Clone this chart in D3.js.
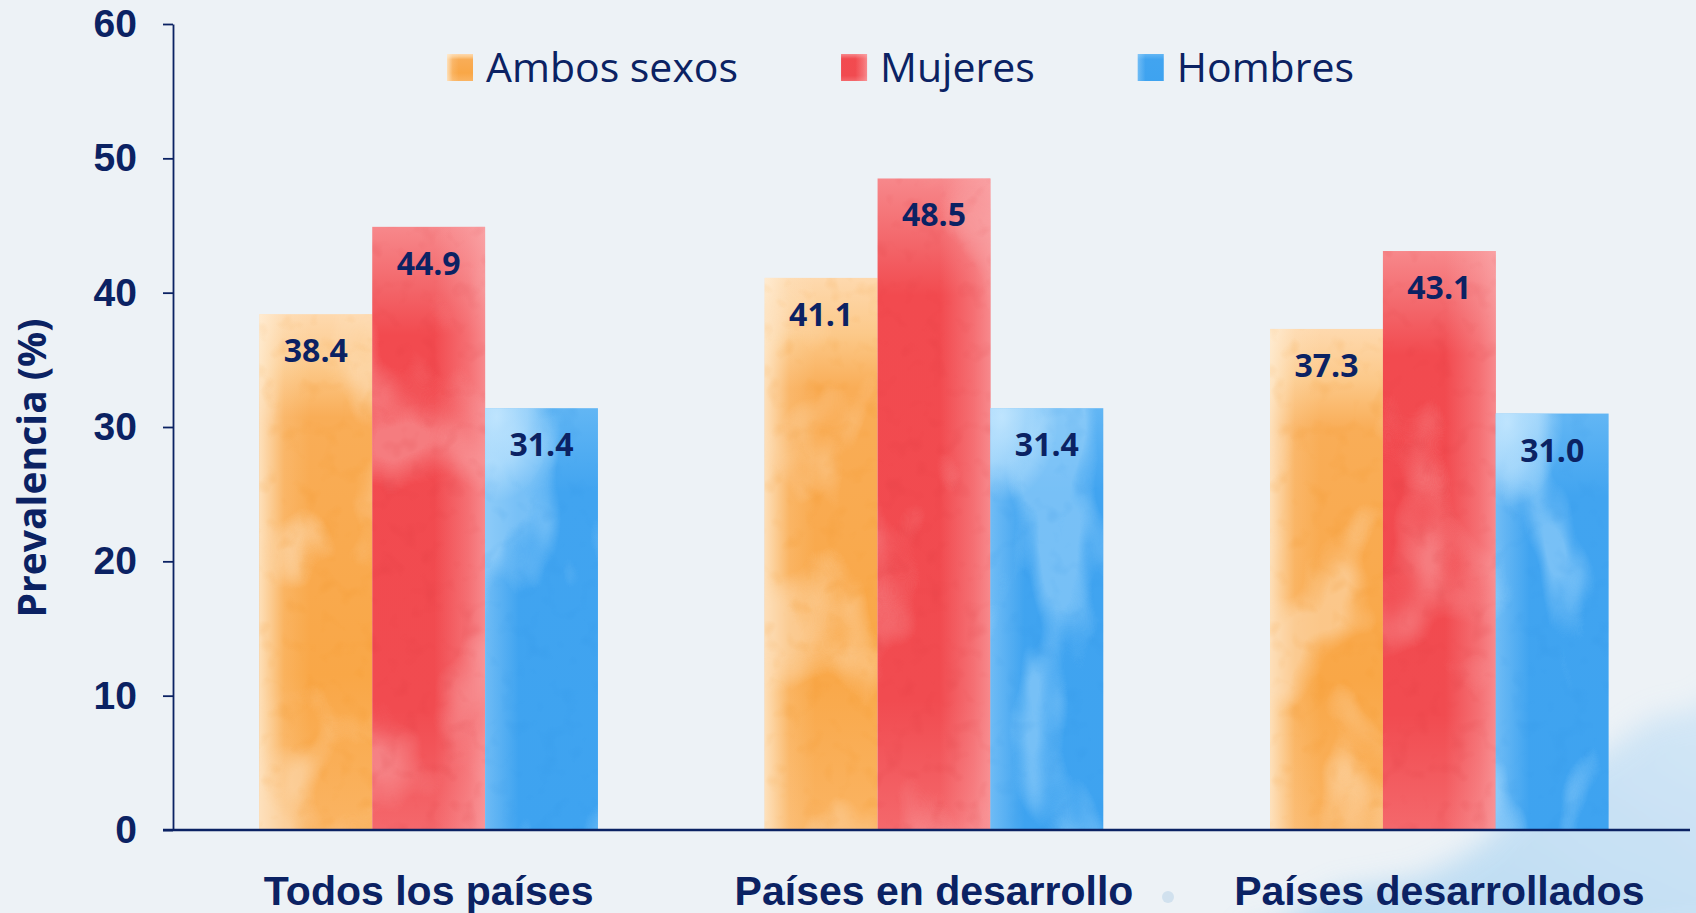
<!DOCTYPE html>
<html>
<head>
<meta charset="utf-8">
<script src="https://cdn.jsdelivr.net/npm/d3@7"></script>
<style>
    html, body { margin: 0; padding: 0; background: #edf2f6; }
    svg { display: block; font-family: "Open Sans", "Noto Sans", sans-serif; }
</style>
</head>
<body>
<script>
// data
var categories = ["Todos los países", "Países en desarrollo", "Países desarrollados"];
var seriesNames = ["Ambos sexos", "Mujeres", "Hombres"];
var ambosSexos = [38.4, 41.1, 37.3];
var mujeres = [44.9, 48.5, 43.1];
var hombres = [31.4, 31.4, 31.0];
var yTicks = [0, 10, 20, 30, 40, 50, 60];

class BarGraf {
    constructor(opts) {
        this.w = opts.width;
        this.h = opts.height;
        this.ink = opts.ink;
        this.colors = opts.colors;
        this.svg;
        this.scaleX;
        this.scaleX2;
        this.scaleY;
    }

    init() {
        this.data = categories.map((c, i) => ({
            cat: c,
            values: [ambosSexos[i], mujeres[i], hombres[i]]
        }));
        this.draw("body");
        this.addDefs();
        this.addBackground();
        this.addAxis();
        this.addBars();
        this.addLegend();
    }

    draw(trg) {
        this.svg = d3.select(trg).append("svg")
            .attr("width", this.w)
            .attr("height", this.h);
        this.scaleY = d3.scaleLinear().domain([0, 60]).range([830, 24]);
        this.scaleX = d3.scaleBand().domain(categories).range([176, 1692])
            .paddingInner(0.33).paddingOuter(0.165);
        this.scaleX2 = d3.scaleBand().domain(seriesNames).range([0, this.scaleX.bandwidth()]);
    }

    linGrad(defs, id, vertical, stops) {
        var lg = defs.append("linearGradient").attr("id", id)
            .attr("x1", 0).attr("y1", 0)
            .attr("x2", vertical ? 0 : 1).attr("y2", vertical ? 1 : 0);
        stops.forEach((s) => lg.append("stop")
            .attr("offset", s[0]).attr("stop-color", s[1]).attr("stop-opacity", s[2] == null ? 1 : s[2]));
    }

    blotFilter(defs, id, freq, oct, seed, k, b) {
        var flt = defs.append("filter").attr("id", id)
            .attr("x", 0).attr("y", 0).attr("width", 1).attr("height", 1);
        flt.append("feTurbulence").attr("type", "fractalNoise")
            .attr("baseFrequency", freq).attr("numOctaves", oct)
            .attr("seed", seed).attr("result", "n");
        flt.append("feColorMatrix").attr("in", "n").attr("type", "matrix")
            .attr("values", "0 0 0 0 0  0 0 0 0 0  0 0 0 0 0  " + k + " 0 0 0 " + b)
            .attr("result", "m");
        flt.append("feComposite").attr("in", "SourceGraphic").attr("in2", "m").attr("operator", "in");
    }

    addDefs() {
        var defs = this.svg.append("defs");
        // soft watercolour blotches, one per bar so they don't repeat
        var blot = [
            { freq: "0.010 0.007", k: 5, b: -2.6 },
            { freq: "0.008 0.006", k: 5, b: -2.7 },
            { freq: "0.012 0.005", k: 6, b: -3.2 }
        ];
        categories.forEach((c, j) => {
            blot.forEach((f, i) => this.blotFilter(defs, "wc" + i + "_" + j, f.freq, 3, 5 + i * 10 + j * 3, f.k, f.b));
        });
        this.blotFilter(defs, "grain", "0.05 0.05", 2, 7, 4, -2.2);

        // base colour, top to bottom
        this.linGrad(defs, "v0", true, [["0%", "#fed9ae"], ["10%", "#fcc98a"], ["20%", "#f9ad57"], ["70%", "#f9a747"], ["100%", "#fab463"]]);
        this.linGrad(defs, "v1", true, [["0%", "#f7888b"], ["10%", "#f3666a"], ["18%", "#f24a4f"], ["80%", "#f14b50"], ["100%", "#f4686c"]]);
        this.linGrad(defs, "v2", true, [["0%", "#62b6f4"], ["20%", "#41a4f0"], ["100%", "#3ea3f0"]]);
        // side washes
        this.linGrad(defs, "h0", false, [["0%", "#fff1dc", 0.75], ["22%", "#fff1dc", 0.15], ["45%", "#fff1dc", 0]]);
        this.linGrad(defs, "h1", false, [["55%", "#fbb3b5", 0], ["85%", "#fbb3b5", 0.35], ["100%", "#fbb3b5", 0.6]]);
        this.linGrad(defs, "h2", false, [["0%", "#c8e8fe", 0.35], ["30%", "#c8e8fe", 0], ["100%", "#c8e8fe", 0]]);

        var tl = defs.append("radialGradient").attr("id", "tl2")
            .attr("cx", 0.1).attr("cy", 0.05).attr("r", 0.5);
        tl.append("stop").attr("offset", "0%").attr("stop-color", "#c2e6fe").attr("stop-opacity", 0.95);
        tl.append("stop").attr("offset", "55%").attr("stop-color", "#c2e6fe").attr("stop-opacity", 0.6);
        tl.append("stop").attr("offset", "100%").attr("stop-color", "#c2e6fe").attr("stop-opacity", 0);

        var splash = defs.append("linearGradient").attr("id", "splash")
            .attr("x1", 0).attr("y1", 1).attr("x2", 1).attr("y2", 0);
        splash.append("stop").attr("offset", "0%").attr("stop-color", "#a9d3f1");
        splash.append("stop").attr("offset", "100%").attr("stop-color", "#cfe5f6");

        var rough = defs.append("filter").attr("id", "rough")
            .attr("x", "-20%").attr("y", "-20%").attr("width", "140%").attr("height", "140%");
        rough.append("feTurbulence").attr("type", "fractalNoise").attr("baseFrequency", 0.012)
            .attr("numOctaves", 3).attr("seed", 2).attr("result", "t");
        rough.append("feDisplacementMap").attr("in", "SourceGraphic").attr("in2", "t")
            .attr("scale", 50).attr("xChannelSelector", "R").attr("yChannelSelector", "G").attr("result", "d");
        rough.append("feGaussianBlur").attr("in", "d").attr("stdDeviation", 14);
    }

    addBackground() {
        this.svg.append("rect").attr("width", this.w).attr("height", this.h).attr("fill", "#edf2f6");
        this.svg.append("path")
            .attr("d", "M1230,940 L1460,850 L1720,690 L1740,940 Z")
            .attr("fill", "url(#splash)")
            .attr("opacity", 0.8)
            .attr("filter", "url(#rough)");
        this.svg.append("circle").attr("cx", 1168).attr("cy", 897).attr("r", 6)
            .attr("fill", "#c9dcec").attr("opacity", 0.8);
    }

    addAxis() {
        var ink = this.ink;
        var yAxis = d3.axisLeft(this.scaleY).tickValues(yTicks)
            .tickSize(10).tickSizeOuter(0).tickPadding(26);
        var gy = this.svg.append("g")
            .attr("transform", "translate(173,0)")
            .call(yAxis);
        gy.select(".domain").attr("stroke", ink).attr("stroke-width", 1.8);
        gy.selectAll(".tick line").attr("stroke", ink).attr("stroke-width", 1.8);
        gy.selectAll(".tick text")
            .attr("fill", ink)
            .style("font-size", "39px")
            .style("font-weight", 700);

        var xAxis = d3.axisBottom(this.scaleX).tickSize(0).tickSizeOuter(0).tickPadding(46);
        var gx = this.svg.append("g")
            .attr("transform", "translate(0,830)")
            .call(xAxis);
        gx.select(".domain").remove();
        gx.append("line")
            .attr("x1", 163).attr("x2", 1690)
            .attr("stroke", ink).attr("stroke-width", 2.6);
        gx.selectAll(".tick text")
            .attr("fill", ink)
            .style("font-size", "41px")
            .style("font-weight", 700);

        this.svg.append("text")
            .attr("transform", "translate(46,468) rotate(-90)")
            .attr("text-anchor", "middle")
            .attr("fill", ink)
            .style("font-size", "39px")
            .style("font-weight", 700)
            .text("Prevalencia (%)");
    }

    addBars() {
        var _loc = this;
        var groups = this.svg.insert("g", "g").selectAll("g")
            .data(this.data)
            .enter().append("g")
            .attr("transform", (d) => "translate(" + this.scaleX(d.cat) + ",0)");

        var bars = groups.selectAll("g.bar")
            .data((d, j) => d.values.map((v, i) => ({ key: seriesNames[i], i: i, j: j, v: v })))
            .enter().append("g")
            .attr("class", "bar");

        var geo = (sel) => sel
            .attr("x", (d) => _loc.scaleX2(d.key))
            .attr("y", (d) => _loc.scaleY(d.v))
            .attr("width", _loc.scaleX2.bandwidth())
            .attr("height", (d) => _loc.scaleY(0) - _loc.scaleY(d.v));

        bars.append("rect").call(geo).attr("fill", (d) => "url(#v" + d.i + ")");
        bars.append("rect").call(geo).attr("fill", (d) => "url(#h" + d.i + ")");
        bars.append("rect").call(geo)
            .attr("fill", (d) => this.colors[d.i].light)
            .attr("opacity", 0.55)
            .attr("filter", (d) => "url(#wc" + d.i + "_" + d.j + ")");
        bars.append("rect").call(geo)
            .attr("fill", (d) => this.colors[d.i].dark)
            .attr("opacity", 0.12)
            .attr("filter", "url(#grain)");
        bars.filter((d) => d.i == 2).append("rect")
            .attr("x", (d) => _loc.scaleX2(d.key))
            .attr("y", (d) => _loc.scaleY(d.v))
            .attr("width", _loc.scaleX2.bandwidth())
            .attr("height", 170)
            .attr("fill", "url(#tl2)");

        bars.append("text")
            .attr("x", (d) => _loc.scaleX2(d.key) + _loc.scaleX2.bandwidth() / 2)
            .attr("y", (d) => _loc.scaleY(d.v) + 48)
            .attr("text-anchor", "middle")
            .attr("fill", this.ink)
            .style("font-size", "32px")
            .style("font-weight", 700)
            .text((d) => d.v.toFixed(1));
    }

    addLegend() {
        var lg = this.svg.append("g").attr("class", "legend");
        var x = 447;
        seriesNames.forEach((name, i) => {
            var it = lg.append("g").attr("transform", "translate(" + x + ",54)");
            it.append("rect").attr("width", 26).attr("height", 27).attr("fill", "url(#v" + i + ")");
            it.append("rect").attr("width", 26).attr("height", 27).attr("fill", "url(#h" + i + ")");
            var t = it.append("text")
                .attr("x", 39).attr("y", 28)
                .attr("fill", this.ink)
                .style("font-size", "41px")
                .text(name);
            x += 39 + t.node().getComputedTextLength() + 103;
        });
    }
}

var graf = new BarGraf({
    width: 1696,
    height: 913,
    ink: "#0b2263",
    colors: [
        { light: "#fde0bd", dark: "#f08e1c" },
        { light: "#f9a5a7", dark: "#d8343a" },
        { light: "#a5d8fc", dark: "#2a8ee0" }
    ]
});
graf.init();
</script>
</body>
</html>
